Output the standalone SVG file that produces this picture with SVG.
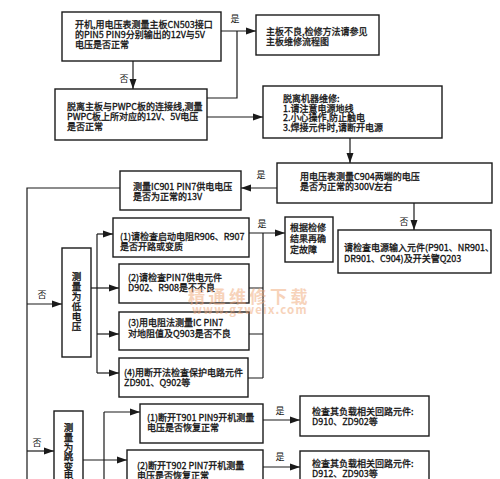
<svg xmlns="http://www.w3.org/2000/svg" width="500" height="479" viewBox="0 0 500 479">
<defs>
<style>
.box{fill:#fff;stroke:#1a1a1a;stroke-width:1.4}
.t{font-family:"Noto Sans CJK SC","Noto Sans CJK JP",sans-serif;font-size:9px;fill:#111;stroke:#111;stroke-width:0.3}
.v{font-family:"Noto Sans CJK SC","Noto Sans CJK JP",sans-serif;font-size:9.5px;fill:#111;stroke:#111;stroke-width:0.35;text-anchor:middle}
.ln{stroke:#1a1a1a;stroke-width:1.2;fill:none}
.lb{font-family:"Noto Sans CJK SC","Noto Sans CJK JP",sans-serif;font-size:9px;fill:#111;text-anchor:middle}
.wm{font-family:"Noto Sans CJK SC",sans-serif;font-weight:bold;fill:#f0a878;opacity:0.5}
</style>
<marker id="ar" markerUnits="userSpaceOnUse" markerWidth="10" markerHeight="8" refX="10" refY="4" orient="auto">
<path d="M0,0.5 L10,4 L0,7.5 z" fill="#1a1a1a"/>
</marker>
</defs>
<rect width="500" height="479" fill="#fff"/>

<g id="connectors">
<path class="ln" d="M221,31 H256" marker-end="url(#ar)"/>
<path class="ln" d="M207,98 H237 V31"/>
<path class="ln" d="M207,117 H263" marker-end="url(#ar)"/>
<path class="ln" d="M133,61 V89" marker-end="url(#ar)"/>
<path class="ln" d="M350,138 V163" marker-end="url(#ar)"/>
<path class="ln" d="M277,188 H241" marker-end="url(#ar)"/>
<path class="ln" d="M414,203 V230" marker-end="url(#ar)"/>
<path class="ln" d="M120,188 H27 V479"/>
<path class="ln" d="M27,304 H62" marker-end="url(#ar)"/>
<path class="ln" d="M91,288 H119" marker-end="url(#ar)"/>
<path class="ln" d="M97,234 V373"/>
<path class="ln" d="M97,234 H113" marker-end="url(#ar)"/>
<path class="ln" d="M97,334 H119" marker-end="url(#ar)"/>
<path class="ln" d="M97,373 H119" marker-end="url(#ar)"/>
<path class="ln" d="M249,288 H263 M249,334 H263 M248,378 H263"/>
<path class="ln" d="M263,233 V378"/>
<path class="ln" d="M249,233 H285" marker-end="url(#ar)"/>
<path class="ln" d="M27,451 H54" marker-end="url(#ar)"/>
<path class="ln" d="M83,460 H127" marker-end="url(#ar)"/>
<path class="ln" d="M104,412 V479"/>
<path class="ln" d="M104,412 H140" marker-end="url(#ar)"/>
<path class="ln" d="M263,420 H300" marker-end="url(#ar)"/>
<path class="ln" d="M263,467 H300" marker-end="url(#ar)"/>
<text class="lb" x="235" y="22">是</text>
<text class="lb" x="124" y="82">否</text>
<text class="lb" x="261" y="178">是</text>
<text class="lb" x="404" y="225">否</text>
<text class="lb" x="42" y="298">否</text>
<text class="lb" x="262" y="227">是</text>
<text class="lb" x="37" y="446">否</text>
<text class="lb" x="280" y="414">是</text>
<text class="lb" x="280" y="460">是</text>
</g>

<g id="n1">
<rect class="box" x="62" y="12" width="159" height="49"/>
<text class="t"><tspan x="75" y="28">开机,用电压表测量主板CN503接口</tspan><tspan x="75" dy="10">的PIN5 PIN9分别输出的12V与5V</tspan><tspan x="75" dy="10">电压是否正常</tspan></text>
</g>
<g id="n2">
<rect class="box" x="256" y="15" width="123" height="40"/>
<text class="t"><tspan x="266" y="35">主板不良,检修方法请参见</tspan><tspan x="266" dy="10">主板维修流程图</tspan></text>
</g>
<g id="n3">
<rect class="box" x="55" y="89" width="152" height="51"/>
<text class="t"><tspan x="67" y="110">脱离主板与PWPC板的连接线,测量</tspan><tspan x="67" dy="10">PWPC板上所对应的12V、5V电压</tspan><tspan x="67" dy="10">是否正常</tspan></text>
</g>
<g id="n4">
<rect class="box" x="263" y="86" width="179" height="52"/>
<text class="t"><tspan x="283" y="102">脱离机器维修:</tspan><tspan x="283" dy="9.5">1.请注意电源地线</tspan><tspan x="283" dy="9.5">2.小心操作,防止触电</tspan><tspan x="283" dy="9.5">3.焊接元件时,请断开电源</tspan></text>
</g>
<g id="n5">
<rect class="box" x="277" y="163" width="215" height="40"/>
<text class="t"><tspan x="300" y="180">用电压表测量C904两端的电压</tspan><tspan x="300" dy="10">是否为正常的300V左右</tspan></text>
</g>
<g id="n6">
<rect class="box" x="120" y="171" width="121" height="39"/>
<text class="t"><tspan x="133" y="190">测量IC901 PIN7供电电压</tspan><tspan x="133" dy="10">是否为正常的13V</tspan></text>
</g>
<g id="n7">
<rect class="box" x="338" y="230" width="153" height="43"/>
<text class="t"><tspan x="344" y="251">请检查电源输入元件(P901、NR901、</tspan><tspan x="344" dy="11">DR901、C904)及开关管Q203</tspan></text>
</g>
<g id="n8">
<rect class="box" x="62" y="248" width="29" height="109"/>
<text class="v"><tspan x="76.5" y="280">测</tspan><tspan x="76.5" dy="10">量</tspan><tspan x="76.5" dy="10">为</tspan><tspan x="76.5" dy="10">低</tspan><tspan x="76.5" dy="10">电</tspan><tspan x="76.5" dy="10">压</tspan></text>
</g>
<g id="n9a">
<rect class="box" x="113" y="218" width="136" height="39"/>
<text class="t"><tspan x="120" y="240">(1)请检查启动电阻R906、R907</tspan><tspan x="120" dy="10">是否开路或变质</tspan></text>
</g>
<g id="n9b">
<rect class="box" x="119" y="264" width="130" height="39"/>
<text class="t"><tspan x="128" y="281">(2)请检查PIN7供电元件</tspan><tspan x="128" dy="10">D902、R908是不不良</tspan></text>
</g>
<g id="n9c">
<rect class="box" x="119" y="312" width="130" height="38"/>
<text class="t"><tspan x="128" y="326">(3)用电阻法测量IC PIN7</tspan><tspan x="128" dy="10.5">对地阻值及Q903是否不良</tspan></text>
</g>
<g id="n9d">
<rect class="box" x="119" y="358" width="129" height="39"/>
<text class="t"><tspan x="124" y="376">(4)用断开法检查保护电路元件</tspan><tspan x="124" dy="10">ZD901、Q902等</tspan></text>
</g>
<g id="n10">
<rect class="box" x="285" y="217" width="48" height="45"/>
<text class="t"><tspan x="290" y="231">根据检修</tspan><tspan x="290" dy="11">结果再确</tspan><tspan x="290" dy="11">定故障</tspan></text>
</g>
<g id="n11">
<rect class="box" x="54" y="411" width="29" height="90"/>
<text class="v"><tspan x="68.5" y="431">测</tspan><tspan x="68.5" dy="10">量</tspan><tspan x="68.5" dy="9.5">为</tspan><tspan x="68.5" dy="9.5">跳</tspan><tspan x="68.5" dy="9.5">变</tspan><tspan x="68.5" dy="9">电</tspan></text>
</g>
<g id="n12a">
<rect class="box" x="140" y="404" width="123" height="39"/>
<text class="t"><tspan x="147" y="421">(1)断开T901 PIN9开机测量</tspan><tspan x="147" dy="10">电压是否恢复正常</tspan></text>
</g>
<g id="n12b">
<rect class="box" x="127" y="450" width="136" height="40"/>
<text class="t"><tspan x="137" y="469">(2)断开T902 PIN7开机测量</tspan><tspan x="137" dy="9.5">电压是否恢复正常</tspan></text>
</g>
<g id="n13a">
<rect class="box" x="300" y="396" width="129" height="40"/>
<text class="t"><tspan x="312" y="415">检查其负载相关回路元件:</tspan><tspan x="312" dy="10">D910、ZD902等</tspan></text>
</g>
<g id="n13b">
<rect class="box" x="300" y="451" width="129" height="40"/>
<text class="t"><tspan x="312" y="467">检查其负载相关回路元件:</tspan><tspan x="312" dy="10">D912、ZD903等</tspan></text>
</g>

<g id="watermark">
<text class="wm" x="188" y="303" font-size="17" letter-spacing="3.5">精通维修下载</text>
<text class="wm" x="192" y="314" font-size="11.5" letter-spacing="1.2">www.gzweix.com</text>
</g>
</svg>
